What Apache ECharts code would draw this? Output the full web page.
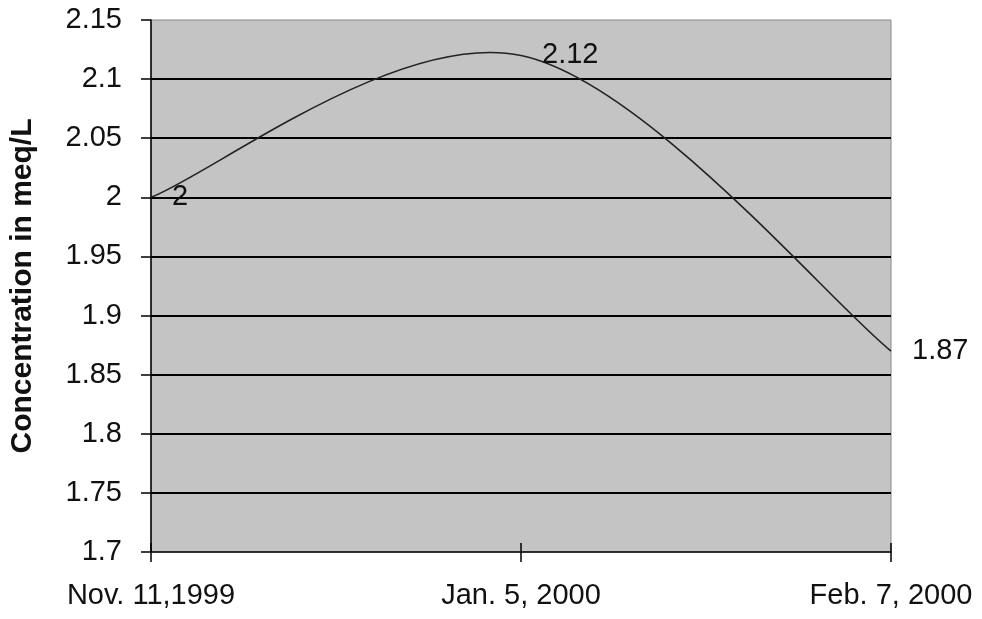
<!DOCTYPE html>
<html>
<head>
<meta charset="utf-8">
<script src="https://cdn.jsdelivr.net/npm/echarts@6/dist/echarts.min.js"></script>
<style>
  html, body { margin: 0; padding: 0; background: #ffffff; }
  #chart { width: 982px; height: 619px; }
</style>
</head>
<body>
<div id="chart"></div>
<script>
// Sampling dates and measured concentrations
const sampleDates = ['Nov. 11,1999', 'Jan. 5, 2000', 'Feb. 7, 2000'];
const concentration = [2, 2.12, 1.87];
const yTicks = { min: 1.7, max: 2.15, step: 0.05 };
const yTitle = 'Concentration in meq/L';

const FONT = '"Liberation Sans", Arial, sans-serif';
const INK = '#111111';

const chart = echarts.init(document.getElementById('chart'), null, { renderer: 'canvas' });

// Smoothed curve: cubic Bezier segments whose control points sit 1/6 of the
// neighbour-to-neighbour vector away from each point (spreadsheet-style smoothing).
function renderCurve(params, api) {
  const n = params.dataInsideLength;
  const idx = params.dataIndexInside;
  const children = [];
  const pt = api.coord([api.value(0, idx), api.value(1, idx)]);

  if (idx === 0) {
    const pts = [];
    for (let i = 0; i < n; i++) {
      pts.push(api.coord([api.value(0, i), api.value(1, i)]));
    }
    for (let i = 0; i < n - 1; i++) {
      const p0 = pts[Math.max(i - 1, 0)];
      const p1 = pts[i];
      const p2 = pts[i + 1];
      const p3 = pts[Math.min(i + 2, n - 1)];
      children.push({
        type: 'bezierCurve',
        shape: {
          x1: p1[0], y1: p1[1],
          cpx1: p1[0] + (p2[0] - p0[0]) / 6, cpy1: p1[1] + (p2[1] - p0[1]) / 6,
          cpx2: p2[0] - (p3[0] - p1[0]) / 6, cpy2: p2[1] - (p3[1] - p1[1]) / 6,
          x2: p2[0], y2: p2[1]
        },
        style: { stroke: '#222222', lineWidth: 1.6, fill: null }
      });
    }
  }

  children.push({
    type: 'text',
    x: pt[0] + 21,
    y: pt[1],
    style: {
      text: String(api.value(1, idx)),
      fill: INK,
      font: '29px ' + FONT,
      align: 'left',
      verticalAlign: 'middle'
    }
  });

  return { type: 'group', children: children };
}

chart.setOption({
  animation: false,
  backgroundColor: '#ffffff',
  grid: {
    left: 148, right: 91, top: 20, bottom: 67,
    show: true,
    backgroundColor: '#c4c4c4',
    borderColor: '#8a8a8a',
    borderWidth: 1
  },
  xAxis: [
    {
      type: 'category',
      data: sampleDates,
      boundaryGap: false,
      axisLine: { lineStyle: { color: '#000', width: 1.5 } },
      axisTick: { show: true, length: 10, lineStyle: { color: '#000', width: 1.5 } },
      axisLabel: { color: INK, fontFamily: FONT, fontSize: 29, margin: 29 },
      splitLine: { show: false }
    },
    {
      // inner half of the crossing tick marks
      type: 'category',
      data: sampleDates,
      boundaryGap: false,
      position: 'bottom',
      axisLine: { show: false },
      axisTick: { show: true, inside: true, length: 9, lineStyle: { color: '#000', width: 1.5 } },
      axisLabel: { show: false },
      splitLine: { show: false }
    }
  ],
  yAxis: {
    type: 'value',
    min: yTicks.min,
    max: yTicks.max,
    interval: yTicks.step,
    name: yTitle,
    nameLocation: 'middle',
    nameGap: 113,
    nameRotate: 90,
    nameTextStyle: { color: INK, fontFamily: FONT, fontSize: 30, fontWeight: 'bold' },
    axisLine: { show: true, lineStyle: { color: '#000', width: 1.5 } },
    axisTick: { show: true, length: 10, lineStyle: { color: '#000', width: 1.5 } },
    axisLabel: {
      color: INK, fontFamily: FONT, fontSize: 29, margin: 29,
      formatter: v => String(parseFloat(v.toFixed(2)))
    },
    splitLine: { show: true, showMinLine: false, showMaxLine: false, lineStyle: { color: '#000', width: 2 } }
  },
  series: [{
    type: 'custom',
    xAxisIndex: 0,
    clip: false,
    data: concentration.map((v, i) => [i, v]),
    encode: { x: 0, y: 1 },
    renderItem: renderCurve
  }]
});
</script>
</body>
</html>
